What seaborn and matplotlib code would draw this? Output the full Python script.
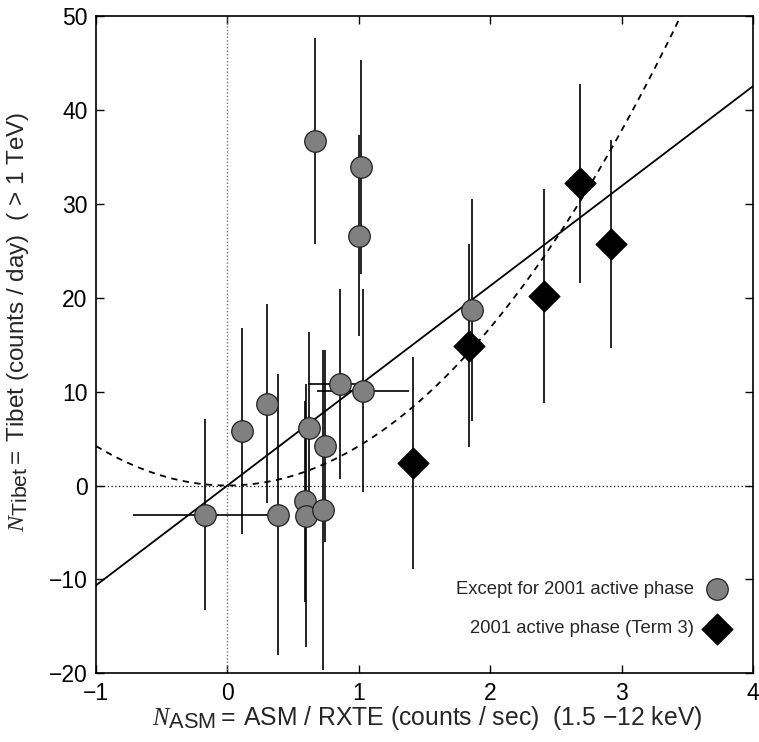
import numpy as np
import pandas as pd
import matplotlib
matplotlib.use("Agg")
import matplotlib.pyplot as plt
import seaborn as sns
try:
    import matplotlib._mathtext as _mt
    _mt.SHRINK_FACTOR = 0.88   # larger subscripts, as in the reference
except Exception:
    pass

# ---- data ----
quiet_x = [-0.17, 0.11, 0.30, 0.385, 0.59, 0.595, 0.62, 0.67, 0.73, 0.74, 0.855, 1.00, 1.02, 1.03, 1.86]
quiet_y = [-3.1, 5.8, 8.7, -3.1, -1.7, -3.2, 6.1, 36.7, -2.6, 4.2, 10.8, 26.6, 33.9, 10.1, 18.7]
quiet_yerr = [10.2, 11.0, 10.6, 15.0, 10.7, 14.0, 10.2, 11.0, 17.0, 10.2, 10.1, 10.7, 11.4, 10.8, 11.8]
quiet_xerr = [0.55, 0, 0, 0, 0, 0, 0, 0, 0, 0, 0.24, 0, 0, 0.35, 0]

active_x = [1.41, 1.84, 2.41, 2.68, 2.92]
active_y = [2.4, 14.9, 20.2, 32.2, 25.7]
active_yerr = [11.3, 10.8, 11.4, 10.6, 11.1]

linear_slope = 10.63       # solid line: N_Tibet = a * N_ASM
quad_coef = 4.2            # dashed curve: N_Tibet = b * N_ASM^2

x_ticks = [-1, 0, 1, 2, 3, 4]
y_ticks = [-20, -10, 0, 10, 20, 30, 40, 50]

label_quiet = "Except for 2001 active phase"
label_active = "2001 active phase (Term 3)"

# ---- style ----
sns.set_theme(style="ticks")
plt.rcParams['font.family'] = ['Liberation Sans', 'DejaVu Sans']
plt.rcParams['mathtext.fontset'] = 'custom'
plt.rcParams['mathtext.rm'] = 'Liberation Sans'
plt.rcParams['mathtext.it'] = 'Liberation Serif:italic'
plt.rcParams['mathtext.bf'] = 'Liberation Sans:bold'

fig = plt.figure(figsize=(7.59, 7.42), dpi=100)
ax = fig.add_axes([0.1265, 0.0926, 0.8655, 0.8858])

# reference lines
ax.axvline(0, color='0.45', lw=1.0, ls=(0, (1, 1.5)), zorder=1)
ax.axhline(0, color='black', lw=0.9, ls=(0, (1, 2)), zorder=1)

# fitted models
xs = np.linspace(-1, 4, 400)
fit_df = pd.DataFrame({"x": xs, "lin": linear_slope * xs, "quad": quad_coef * xs ** 2})
sns.lineplot(data=fit_df, x="x", y="lin", ax=ax, color='black', lw=1.3, zorder=2, legend=False)
sns.lineplot(data=fit_df, x="x", y="quad", ax=ax, color='black', lw=1.3, ls=(0, (3.5, 3)), zorder=2, legend=False)

# error bars
ax.errorbar(quiet_x, quiet_y, yerr=quiet_yerr, xerr=quiet_xerr, fmt='none',
            ecolor='black', elinewidth=1.2, capsize=0, zorder=3)
ax.errorbar(active_x, active_y, yerr=active_yerr, fmt='none',
            ecolor='black', elinewidth=1.2, capsize=0, zorder=3)

# points
qdf = pd.DataFrame({"x": quiet_x, "y": quiet_y})
adf = pd.DataFrame({"x": active_x, "y": active_y})
sns.scatterplot(data=qdf, x="x", y="y", ax=ax, marker='o', s=15.5 ** 2,
                color='#808080', edgecolor='#202020', linewidth=0.9, zorder=4, label=label_quiet)
sns.scatterplot(data=adf, x="x", y="y", ax=ax, marker='D', s=16 ** 2,
                color='black', edgecolor='black', linewidth=0.5, zorder=5, label=label_active)

ax.set_xlim(-1, 4)
ax.set_ylim(-20, 50)
ax.set_xticks(x_ticks)
ax.set_yticks(y_ticks)
ax.tick_params(direction='in', length=6, width=1, top=True, right=True,
               labelsize=16.5, pad=6, color='black', labelcolor='black')
for sp in ax.spines.values():
    sp.set_linewidth(1.2)
    sp.set_color('black')

ax.set_xlabel(r'$N_{\mathrm{ASM}} =\;$ASM / RXTE (counts / sec)  (1.5 $-$12 keV)', fontsize=17.8)
ax.set_ylabel(r'$N_{\mathrm{Tibet}} =\;$Tibet (counts / day)  ( > 1 TeV)', fontsize=17.5)
ax.xaxis.set_label_coords(0.504, -0.047, transform=ax.transAxes)
ax.yaxis.set_label_coords(-0.099, 0.535, transform=ax.transAxes)

leg = ax.legend(loc='lower right', bbox_to_anchor=(0.993, 0.035), frameon=False, markerfirst=False,
                fontsize=13.3, handletextpad=0.25, labelspacing=1.2, borderaxespad=0.3)

fig.savefig("out.png", dpi=100)
